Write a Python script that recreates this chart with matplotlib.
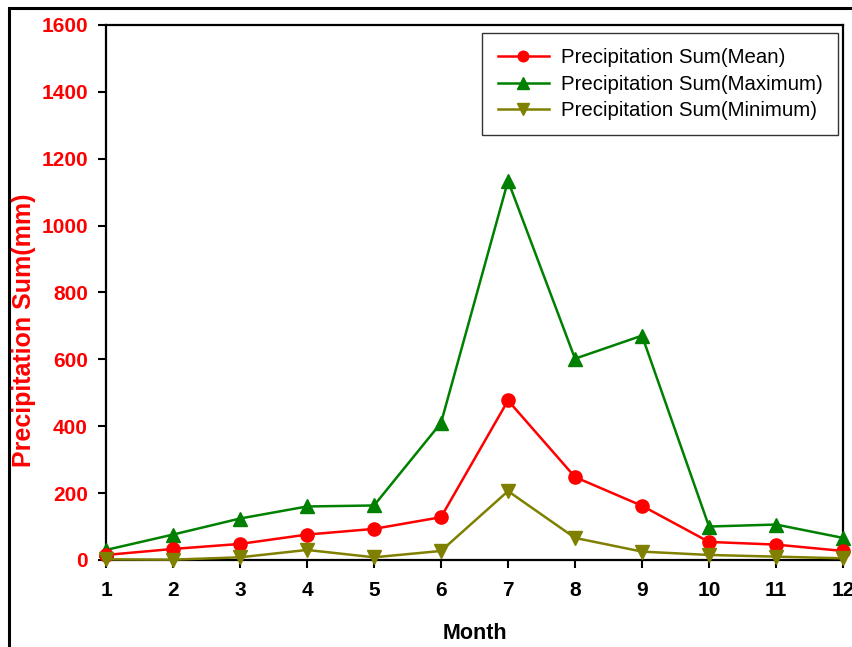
import matplotlib
matplotlib.use('Agg')
import matplotlib.pyplot as plt
from matplotlib.patches import Rectangle

plt.rcParams['font.family'] = ['Liberation Sans', 'DejaVu Sans']

months = [1, 2, 3, 4, 5, 6, 7, 8, 9, 10, 11, 12]
precip_mean = [15, 33, 48, 76, 93, 128, 477, 248, 162, 54, 46, 27]
precip_max = [30, 76, 124, 160, 163, 410, 1134, 602, 671, 100, 106, 66]
precip_min = [2, 1, 8, 30, 8, 27, 206, 66, 25, 15, 10, 5]

fig = plt.figure(figsize=(8.53, 6.47), dpi=100)
ax = fig.add_axes([0.1243, 0.1345, 0.8640, 0.8269])

# outer frame (cut off at right/bottom like the reference)
fig.patches.append(Rectangle((9/853, -0.05), 1.2, 1 - 8/647 + 0.05,
                             transform=fig.transFigure, fill=False,
                             edgecolor='black', linewidth=2.2))

ax.plot(months, precip_mean, color='#ff0000', marker='o', markersize=9.5,
        linewidth=1.8, label='Precipitation Sum(Mean)', clip_on=False, zorder=4)
ax.plot(months, precip_max, color='#008000', marker='^', markersize=10,
        linewidth=1.8, label='Precipitation Sum(Maximum)', clip_on=False, zorder=3)
ax.plot(months, precip_min, color='#808000', marker='v', markersize=10,
        linewidth=1.8, label='Precipitation Sum(Minimum)', clip_on=False, zorder=5)

ax.set_xlim(1, 12)
ax.set_ylim(0, 1600)
ax.set_xticks(months)
ax.set_yticks(range(0, 1601, 200))

for s in ax.spines.values():
    s.set_linewidth(1.6)
ax.tick_params(direction='out', length=6, width=1.5)
ax.tick_params(axis='y', pad=7)
ax.tick_params(axis='x', pad=9)
for lbl in ax.get_yticklabels():
    lbl.set_color('#ff0000')
    lbl.set_fontweight('bold')
    lbl.set_fontsize(15)
for lbl in ax.get_xticklabels():
    lbl.set_fontweight('bold')
    lbl.set_fontsize(15)

ax.set_xlabel('Month', fontsize=15.5, fontweight='bold')
ax.xaxis.set_label_coords(0.5, -0.118)
ax.set_ylabel('Precipitation Sum(mm)', fontsize=18, fontweight='bold', color='#ff0000')
ax.yaxis.set_label_coords(-0.095, 0.43)

leg = ax.legend(loc='upper right', bbox_to_anchor=(0.993, 0.985), fontsize=14.7,
                frameon=True, fancybox=False, edgecolor='black', handlelength=2.5,
                borderpad=0.75, labelspacing=0.36, handletextpad=0.6,
                borderaxespad=0, markerscale=0.8)
leg.get_frame().set_linewidth(1.0)

fig.savefig('out.png', dpi=100)
